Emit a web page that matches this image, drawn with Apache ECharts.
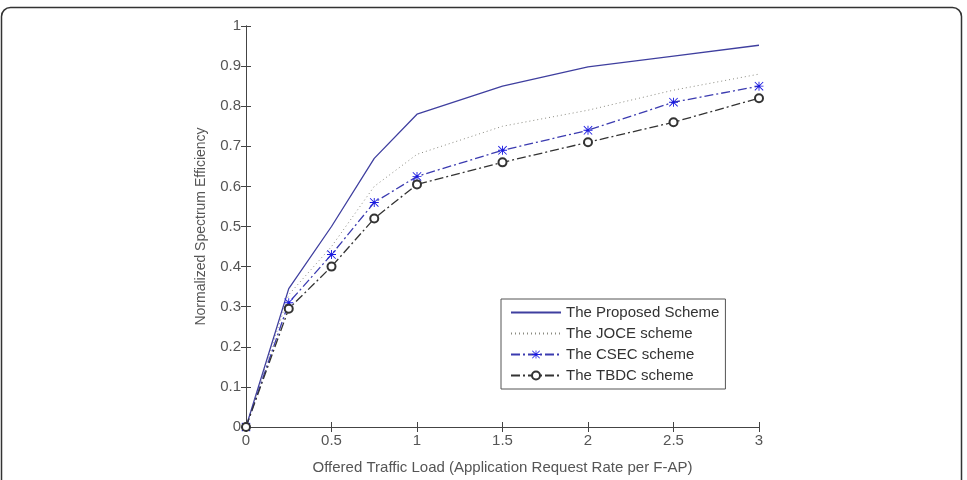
<!DOCTYPE html>
<html><head><meta charset="utf-8">
<script src="https://cdn.jsdelivr.net/npm/echarts@6/dist/echarts.min.js"></script>
<style>html,body{margin:0;padding:0;background:#fff}#c{width:967px;height:480px}</style>
</head><body><div id="c"></div>
<script>
const xValues = [0, 0.25, 0.5, 0.75, 1, 1.5, 2, 2.5, 3];
const proposed = [0, 0.345, 0.50, 0.67, 0.78, 0.85, 0.898, 0.925, 0.952];
const joce = [0, 0.33, 0.45, 0.60, 0.68, 0.75, 0.79, 0.84, 0.88];
const csec = [0, 0.31, 0.43, 0.56, 0.625, 0.69, 0.74, 0.81, 0.85];
const tbdc = [0, 0.295, 0.40, 0.52, 0.605, 0.66, 0.71, 0.76, 0.82];
const seriesNames = ['The Proposed Scheme', 'The JOCE scheme', 'The CSEC scheme', 'The TBDC scheme'];

const pair = arr => xValues.map((x, i) => [x, arr[i]]);
const star = 'path://M0,4.5h10v1h-10z M4.5,0h1v10h-1z M0.7,0L10,9.3L9.3,10L0,0.7z M9.3,0L10,0.7L0.7,10L0,9.3z';
const font = 'Liberation Sans, Arial, sans-serif';
const chart = echarts.init(document.getElementById('c'));
const axisCommon = {
  axisLine: {show: true, lineStyle: {color: '#444', width: 1}},
  axisTick: {show: true, inside: true, length: 5, lineStyle: {color: '#444'}},
  splitLine: {show: false}
};
chart.setOption({
  animation: false,
  backgroundColor: '#fff',
  graphic: [{type: 'rect', shape: {x: 1.5, y: 7.5, width: 960, height: 520, r: 9},
    style: {fill: 'none', stroke: '#333', lineWidth: 1.5}, z: 100}],
  grid: {left: 246, right: 208, top: 26, bottom: 50},
  legend: {
    orient: 'vertical', left: 501, top: 299,
    backgroundColor: '#fff', borderColor: '#555', borderWidth: 1,
    padding: [6, 6, 6, 9], itemGap: 6, itemWidth: 50, itemHeight: 10,
    textStyle: {fontFamily: font, fontSize: 15, color: '#333', lineHeight: 15},
    data: [
      {name: seriesNames[0], itemStyle: {opacity: 0}},
      {name: seriesNames[1], itemStyle: {opacity: 0}},
      {name: seriesNames[2]},
      {name: seriesNames[3]}
    ]
  },
  xAxis: [
    Object.assign({type: 'value', min: 0, max: 3, interval: 0.5,
      name: 'Offered Traffic Load (Application Request Rate per F-AP)', nameLocation: 'middle', nameGap: 33,
      nameTextStyle: {fontFamily: font, fontSize: 15, color: '#555'},
      axisLabel: {fontFamily: font, fontSize: 15, color: '#555', margin: 6}}, axisCommon),
    Object.assign({type: 'value', min: 0, max: 3, interval: 0.5, position: 'top',
      axisLabel: {show: false}}, axisCommon)
  ],
  yAxis: [
    Object.assign({type: 'value', min: 0, max: 1, interval: 0.1,
      name: 'Normalized Spectrum Efficiency', nameLocation: 'middle', nameGap: 38,
      nameTextStyle: {fontFamily: font, fontSize: 14, color: '#555'},
      axisLabel: {fontFamily: font, fontSize: 15, color: '#555', margin: 5}}, axisCommon),
    Object.assign({type: 'value', min: 0, max: 1, interval: 0.1, position: 'right',
      axisLabel: {show: false}}, axisCommon)
  ],
  series: [
    {name: seriesNames[0], type: 'line', data: pair(proposed), symbol: 'none', showSymbol: false,
      lineStyle: {color: '#3f3f9f', width: 1.3}, itemStyle: {color: '#3f3f9f'}},
    {name: seriesNames[1], type: 'line', data: pair(joce), symbol: 'none', showSymbol: false,
      lineStyle: {color: '#8a8a80', width: 1, type: [1, 3]}, itemStyle: {color: '#8a8a80'}},
    {name: seriesNames[2], type: 'line', data: pair(csec), symbol: star, symbolSize: 9,
      lineStyle: {color: '#3b3bb0', width: 1.3, type: [9, 3, 2, 3]}, itemStyle: {color: '#1a1ae0'}},
    {name: seriesNames[3], type: 'line', data: pair(tbdc), symbol: 'emptyCircle', symbolSize: 8,
      lineStyle: {color: '#333', width: 1.3, type: [9, 3, 2, 3]},
      itemStyle: {color: '#333', borderColor: '#333', borderWidth: 1.2}}
  ]
});
</script></body></html>
